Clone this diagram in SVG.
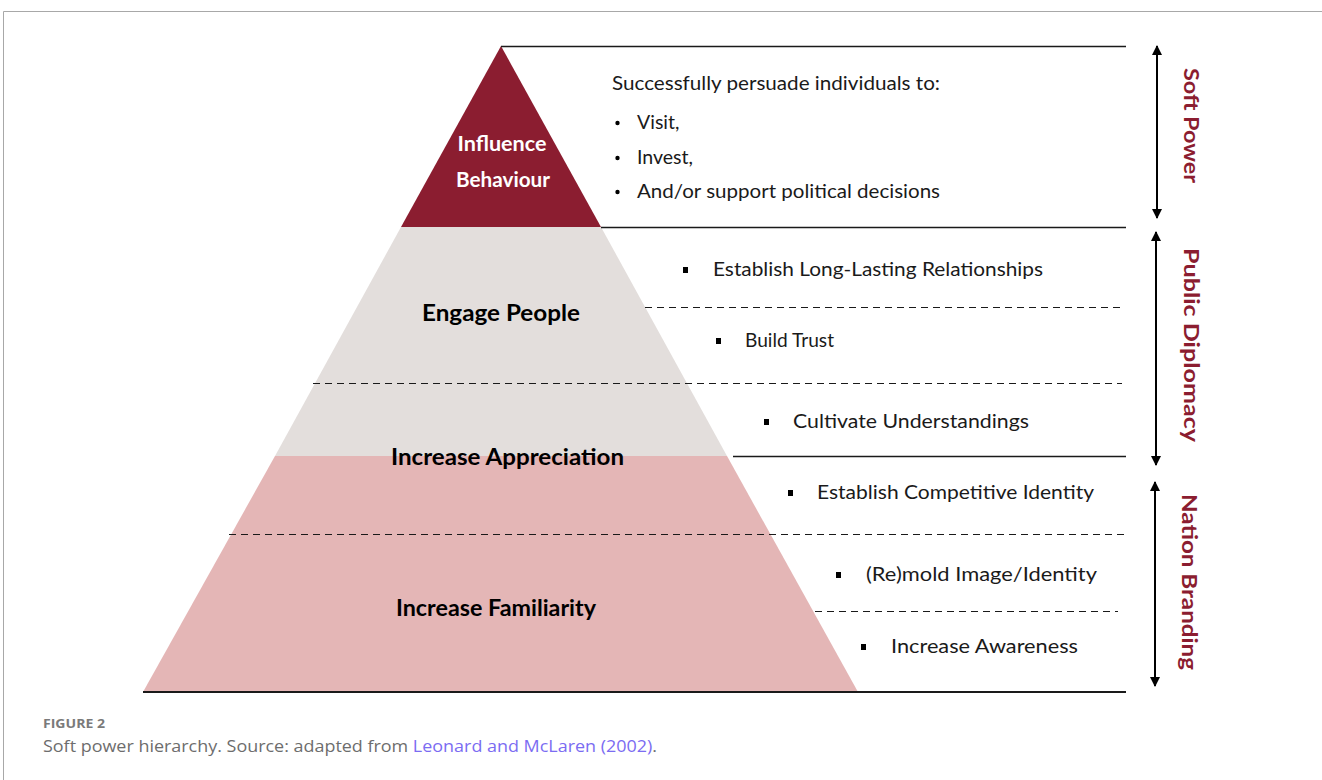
<svg xmlns="http://www.w3.org/2000/svg" width="1322" height="780" viewBox="0 0 1322 780">
  <defs>
    <marker id="ah" viewBox="0 0 10 10" refX="9" refY="5" markerWidth="10" markerHeight="10" markerUnits="userSpaceOnUse" orient="auto-start-reverse">
      <path d="M0,0 L10,5 L0,10 z" fill="#000"/>
    </marker>
  </defs>
  <style>
    .frame { fill: none; stroke: #a8a8a8; stroke-width: 1; }
    .solid { stroke: #1a1a1a; stroke-width: 1.3; fill: none; }
    .dash { stroke: #1a1a1a; stroke-width: 1.2; stroke-dasharray: 7 5; fill: none; }
    .arrow { stroke: #000; stroke-width: 2; fill: none; }
    .tier { font-family: Lato, "Open Sans", sans-serif; font-weight: 700; font-size: 22px; text-anchor: middle; fill: #000; }
    .tier-top { font-family: Lato, "Open Sans", sans-serif; font-weight: 700; font-size: 20px; text-anchor: middle; fill: #fff; }
    .item { font-family: Lato, "Noto Sans", sans-serif; font-size: 19.5px; fill: #1a1a1a; }
    .side { font-family: Lato, "Open Sans", sans-serif; font-weight: 700; font-size: 21px; fill: #8b1d30; text-anchor: middle; }
    .bullet { fill: #000; }
    .cap-head { font-family: "Open Sans", Lato, sans-serif; font-weight: 700; font-size: 13px; fill: #7a7a7a; }
    .cap { font-family: "Open Sans", Lato, sans-serif; font-size: 16.5px; fill: #6d6d6d; }
    .cap-link { fill: #7b6cf2; }
  </style>

  <!-- page frame -->
  <path class="frame" d="M3.5,780 V11.5 H1322"/>

  <!-- pyramid tiers -->
  <g id="tier-influence">
    <polygon points="501,46 401,227 601,227" fill="#8b1d30"/>
    <text class="tier-top" x="502" y="151" textLength="89" lengthAdjust="spacingAndGlyphs">Influence</text>
    <text class="tier-top" x="503" y="187" textLength="94" lengthAdjust="spacingAndGlyphs">Behaviour</text>
  </g>
  <g id="tier-engage">
    <polygon points="401,227 601,227 727,456 275,456" fill="#e3dedc"/>
    <text class="tier" x="501" y="321" textLength="158" lengthAdjust="spacingAndGlyphs">Engage People</text>
  </g>
  <g id="tier-appreciation">
    <polygon points="275,456 727,456 858,692 143,692" fill="#e4b6b6"/>
    <text class="tier" x="507.5" y="465" textLength="233" lengthAdjust="spacingAndGlyphs">Increase Appreciation</text>
  </g>
  <g id="tier-familiarity">
    <text class="tier" x="496" y="616" textLength="200" lengthAdjust="spacingAndGlyphs">Increase Familiarity</text>
  </g>

  <!-- connectors: rules and range arrows -->
  <g id="connectors">
    <line class="solid" x1="501" y1="46.5" x2="1126" y2="46.5"/>
    <line class="solid" x1="601" y1="227.5" x2="1126" y2="227.5"/>
    <line class="solid" x1="733" y1="456.5" x2="1126" y2="456.5"/>
    <line class="solid" x1="143" y1="692" x2="1126" y2="692" style="stroke-width:2"/>
    <line class="dash" x1="645" y1="307.5" x2="1122" y2="307.5"/>
    <line class="dash" x1="313" y1="383.5" x2="1122" y2="383.5"/>
    <line class="dash" x1="229" y1="534.5" x2="1126" y2="534.5"/>
    <line class="dash" x1="815" y1="611.5" x2="1118" y2="611.5"/>
    <line class="arrow" x1="1157" y1="46" x2="1157" y2="218" marker-start="url(#ah)" marker-end="url(#ah)"/>
    <line class="arrow" x1="1156" y1="232" x2="1156" y2="465" marker-start="url(#ah)" marker-end="url(#ah)"/>
    <line class="arrow" x1="1155" y1="482" x2="1155" y2="686" marker-start="url(#ah)" marker-end="url(#ah)"/>
  </g>

  <!-- range labels -->
  <g id="label-soft-power">
    <text class="side" transform="translate(1184,125.5) rotate(90)" textLength="115" lengthAdjust="spacingAndGlyphs">Soft Power</text>
  </g>
  <g id="label-public-diplomacy">
    <text class="side" transform="translate(1184,345) rotate(90)" textLength="194" lengthAdjust="spacingAndGlyphs">Public Diplomacy</text>
  </g>
  <g id="label-nation-branding">
    <text class="side" transform="translate(1182,582) rotate(90)" textLength="176" lengthAdjust="spacingAndGlyphs">Nation Branding</text>
  </g>

  <!-- descriptions -->
  <g id="desc-influence">
    <text class="item" x="612" y="90" textLength="328" lengthAdjust="spacingAndGlyphs">Successfully persuade individuals to:</text>
    <circle class="bullet" cx="617.5" cy="123" r="2.2"/>
    <text class="item" x="637" y="129">Visit,</text>
    <circle class="bullet" cx="617.5" cy="158" r="2.2"/>
    <text class="item" x="637" y="164">Invest,</text>
    <circle class="bullet" cx="617.5" cy="192" r="2.2"/>
    <text class="item" x="637" y="198" textLength="303" lengthAdjust="spacingAndGlyphs">And/or support political decisions</text>
  </g>
  <g id="desc-relationships">
    <rect class="bullet" x="683" y="267" width="5" height="6"/>
    <text class="item" x="713" y="276" textLength="330" lengthAdjust="spacingAndGlyphs">Establish Long-Lasting Relationships</text>
  </g>
  <g id="desc-trust">
    <rect class="bullet" x="716" y="338" width="5" height="6"/>
    <text class="item" x="745" y="347" textLength="89" lengthAdjust="spacingAndGlyphs">Build Trust</text>
  </g>
  <g id="desc-understandings">
    <rect class="bullet" x="764" y="419" width="5" height="6"/>
    <text class="item" x="793" y="428" textLength="236" lengthAdjust="spacingAndGlyphs">Cultivate Understandings</text>
  </g>
  <g id="desc-identity">
    <rect class="bullet" x="788" y="490" width="5" height="6"/>
    <text class="item" x="817" y="499" textLength="277" lengthAdjust="spacingAndGlyphs">Establish Competitive Identity</text>
  </g>
  <g id="desc-image">
    <rect class="bullet" x="836" y="572" width="5" height="6"/>
    <text class="item" x="866" y="581" textLength="231" lengthAdjust="spacingAndGlyphs">(Re)mold Image/Identity</text>
  </g>
  <g id="desc-awareness">
    <rect class="bullet" x="861" y="644" width="5" height="6"/>
    <text class="item" x="891" y="653" textLength="187" lengthAdjust="spacingAndGlyphs">Increase Awareness</text>
  </g>

  <!-- caption -->
  <g id="caption">
    <text class="cap-head" x="43" y="728" textLength="62" lengthAdjust="spacingAndGlyphs">FIGURE 2</text>
    <text class="cap" x="43" y="752" textLength="614" lengthAdjust="spacingAndGlyphs">Soft power hierarchy. Source: adapted from <tspan class="cap-link">Leonard and McLaren (2002)</tspan>.</text>
  </g>
</svg>
